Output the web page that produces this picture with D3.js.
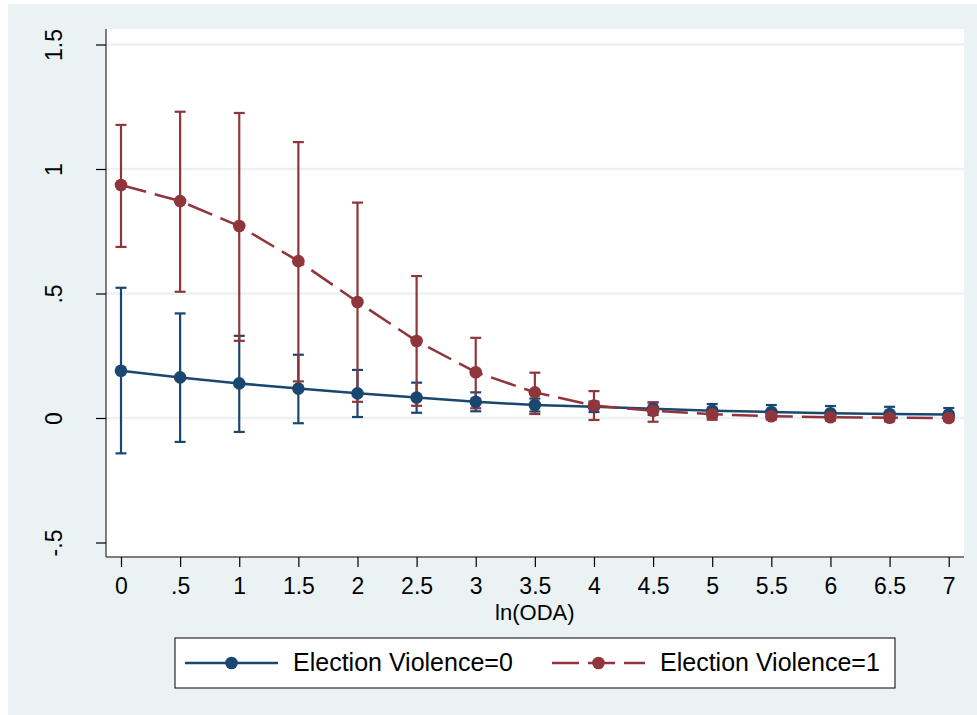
<!DOCTYPE html>
<html>
<head>
<meta charset="utf-8">
<script src="https://cdn.jsdelivr.net/npm/d3@7"></script>
<style>
  body { margin: 0; background: #fff; }
  svg text { font-family: "Liberation Sans", Arial, sans-serif; fill: #000; }
</style>
</head>
<body>
<svg id="chart" width="977" height="715"></svg>
<script>
// ln(ODA) values on the x axis
const odaLevels = [0, 0.5, 1, 1.5, 2, 2.5, 3, 3.5, 4, 4.5, 5, 5.5, 6, 6.5, 7];
const xTickLabels = ["0", ".5", "1", "1.5", "2", "2.5", "3", "3.5", "4", "4.5", "5", "5.5", "6", "6.5", "7"];

const yTicks = [-0.5, 0, 0.5, 1, 1.5];
const yTickLabels = ["-.5", "0", ".5", "1", "1.5"];
const yGrid = [0, 0.5, 1, 1.5];

// Election Violence = 0
const ev0 = [0.19, 0.163, 0.139, 0.118, 0.099, 0.082, 0.065, 0.052, 0.045, 0.037, 0.029, 0.024, 0.019, 0.016, 0.014];
const ev0Hi = [0.523, 0.42, 0.33, 0.254, 0.193, 0.142, 0.103, 0.078, 0.066, 0.062, 0.056, 0.052, 0.048, 0.045, 0.04];
const ev0Lo = [-0.142, -0.096, -0.056, -0.021, 0.004, 0.021, 0.027, 0.026, 0.024, 0.012, 0.002, -0.004, -0.01, -0.013, -0.012];

// Election Violence = 1
const ev1 = [0.936, 0.871, 0.771, 0.63, 0.466, 0.309, 0.184, 0.103, 0.05, 0.029, 0.015, 0.007, 0.003, 0.001, 0.0];
const ev1Hi = [1.177, 1.23, 1.225, 1.108, 0.865, 0.57, 0.322, 0.182, 0.108, 0.063, 0.037, 0.02, 0.011, 0.008, 0.006];
const ev1Lo = [0.687, 0.507, 0.31, 0.147, 0.065, 0.049, 0.039, 0.016, -0.008, -0.015, -0.007, -0.006, -0.005, -0.006, -0.006];

const seriesNames = ["Election Violence=0", "Election Violence=1"];

const navy = "#1a476f",
      maroon = "#90353b",
      bgColor = "#eaf2f3";

const svg = d3.select("#chart");

// outer background and plot region
svg.append("rect")
    .attr("x", 8).attr("y", 4)
    .attr("width", 969).attr("height", 711)
    .attr("fill", bgColor);

const plot = {left: 106, top: 29, right: 964, bottom: 557};

svg.append("rect")
    .attr("x", plot.left).attr("y", plot.top)
    .attr("width", plot.right - plot.left)
    .attr("height", plot.bottom - plot.top)
    .attr("fill", "#fff");

const x = d3.scaleLinear().domain([0, 7]).range([121, 948.7]);
const y = d3.scaleLinear().domain([-0.5, 1.5]).range([542.5, 44.5]);

// gridlines
svg.append("g")
    .selectAll("line")
    .data(yGrid)
  .enter().append("line")
    .attr("x1", plot.left).attr("x2", plot.right)
    .attr("y1", d => y(d)).attr("y2", d => y(d))
    .attr("stroke", bgColor)
    .attr("stroke-width", 2.5);

// y axis
const yAxis = svg.append("g")
    .attr("transform", `translate(${plot.left},0)`)
    .call(d3.axisLeft(y).tickValues(yTicks).tickSize(10).tickFormat((d, i) => yTickLabels[i]));
yAxis.select(".domain")
    .attr("d", `M0,${plot.top}V${plot.bottom}`)
    .attr("stroke", "#555").attr("stroke-width", 1.5);
yAxis.selectAll(".tick line").attr("stroke", "#000").attr("stroke-width", 1.2);
yAxis.selectAll(".tick text")
    .attr("x", null).attr("dy", null)
    .attr("transform", "translate(-44,0) rotate(-90)")
    .attr("text-anchor", "middle")
    .style("font-size", "23px");

// x axis
const xAxis = svg.append("g")
    .attr("transform", `translate(0,${plot.bottom})`)
    .call(d3.axisBottom(x).tickValues(odaLevels).tickSize(10).tickFormat((d, i) => xTickLabels[i]));
xAxis.select(".domain")
    .attr("d", `M${plot.left},0H${plot.right}`)
    .attr("stroke", "#555").attr("stroke-width", 1.5);
xAxis.selectAll(".tick line").attr("stroke", "#000").attr("stroke-width", 1.2);
xAxis.selectAll(".tick text")
    .attr("y", 37).attr("dy", null)
    .style("font-size", "23px");

svg.append("text")
    .attr("x", x(3.5)).attr("y", 620)
    .attr("text-anchor", "middle")
    .style("font-size", "22px")
    .text("ln(ODA)");

// confidence intervals
function drawCI(lo, hi, color) {
  const g = svg.append("g").attr("stroke", color).attr("stroke-width", 2.2);
  const rows = odaLevels.map((d, i) => ({x: d, lo: lo[i], hi: hi[i]}));
  g.selectAll("line.v").data(rows).enter().append("line")
      .attr("x1", d => x(d.x)).attr("x2", d => x(d.x))
      .attr("y1", d => y(d.lo)).attr("y2", d => y(d.hi));
  g.selectAll("line.hi").data(rows).enter().append("line")
      .attr("x1", d => x(d.x) - 5.5).attr("x2", d => x(d.x) + 5.5)
      .attr("y1", d => y(d.hi)).attr("y2", d => y(d.hi));
  g.selectAll("line.lo").data(rows).enter().append("line")
      .attr("x1", d => x(d.x) - 5.5).attr("x2", d => x(d.x) + 5.5)
      .attr("y1", d => y(d.lo)).attr("y2", d => y(d.lo));
}

drawCI(ev0Lo, ev0Hi, navy);
drawCI(ev1Lo, ev1Hi, maroon);

// lines with markers
const line = d3.line().x(d => x(d[0])).y(d => y(d[1]));

function drawSeries(vals, color, dash) {
  const pts = odaLevels.map((d, i) => [d, vals[i]]);
  svg.append("path")
      .datum(pts)
      .attr("d", line)
      .attr("fill", "none")
      .attr("stroke", color)
      .attr("stroke-width", 2.5)
      .attr("stroke-dasharray", dash);
  svg.append("g")
      .selectAll("circle")
      .data(pts)
    .enter().append("circle")
      .attr("cx", d => x(d[0]))
      .attr("cy", d => y(d[1]))
      .attr("r", 6.3)
      .attr("fill", color);
}

drawSeries(ev0, navy, null);
drawSeries(ev1, maroon, "26,9");

// legend
const legend = svg.append("g");
legend.append("rect")
    .attr("x", 175).attr("y", 638)
    .attr("width", 720).attr("height", 50)
    .attr("fill", "#fff")
    .attr("stroke", "#000").attr("stroke-width", 1);

const legendItems = [
  {name: seriesNames[0], color: navy, dash: null, x0: 185},
  {name: seriesNames[1], color: maroon, dash: "27,9", x0: 552}
];

legendItems.forEach(d => {
  legend.append("line")
      .attr("x1", d.x0).attr("x2", d.x0 + 93)
      .attr("y1", 663).attr("y2", 663)
      .attr("stroke", d.color).attr("stroke-width", 2.5)
      .attr("stroke-dasharray", d.dash);
  legend.append("circle")
      .attr("cx", d.x0 + 46.5).attr("cy", 663)
      .attr("r", 6.3).attr("fill", d.color);
  legend.append("text")
      .attr("x", d.x0 + 108).attr("y", 671)
      .style("font-size", "25px")
      .text(d.name);
});
</script>
</body>
</html>
